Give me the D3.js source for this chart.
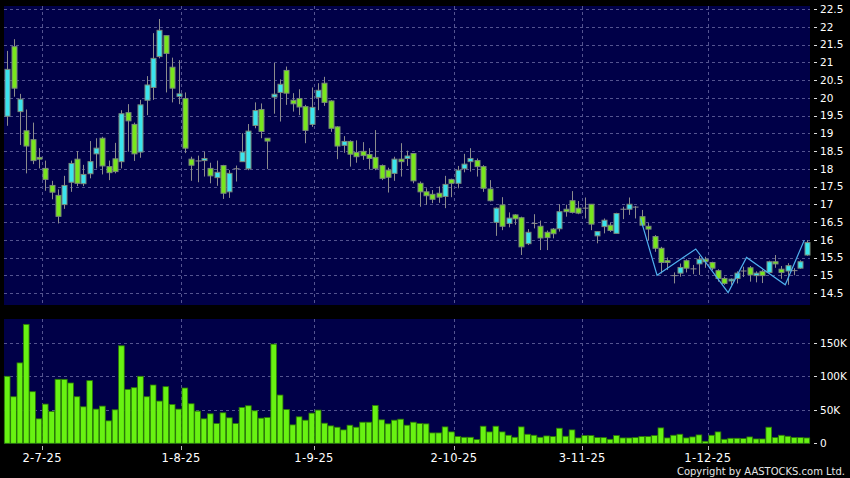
<!DOCTYPE html>
<html><head><meta charset="utf-8">
<script src="https://cdn.jsdelivr.net/npm/d3@7"></script>
<style>html,body{margin:0;padding:0;background:#000;}svg{display:block;}</style>
</head><body>
<svg id="chart" width="850" height="478"></svg>
<script>
// ---- data ----
const openP = [19.48,21.44,19.61,19.07,18.82,18.32,18.01,17.53,17.25,16.99,17.62,18.27,17.58,17.86,18.42,18.86,18.06,18.28,18.20,19.58,19.25,18.47,19.93,20.29,21.16,21.75,20.86,20.04,19.98,18.27,18.22,18.23,18.01,17.75,18.09,17.35,18.00,18.20,18.00,19.22,19.67,18.86,20.02,20.15,20.77,19.93,19.98,19.75,19.25,20.01,20.41,19.91,19.18,18.66,18.77,18.46,18.49,18.40,18.32,18.09,17.96,17.87,18.27,18.29,18.43,17.59,17.35,17.28,17.31,17.22,17.70,17.59,18.00,18.20,18.23,18.06,17.43,16.49,16.98,16.46,16.70,16.62,15.89,16.46,16.38,16.21,16.30,16.31,16.86,17.10,16.89,16.89,17.00,16.11,16.37,16.41,16.18,16.86,16.86,16.92,16.65,16.38,16.09,15.76,15.41,14.99,15.06,15.41,15.18,15.32,15.45,15.36,15.13,14.91,14.84,14.91,15.12,15.21,14.99,15.11,15.08,15.38,15.17,15.12,15.13,15.20,15.57];
const highP = [21.32,21.65,20.11,19.67,19.30,18.58,18.23,17.66,17.42,17.80,18.23,18.50,18.11,18.78,18.86,18.90,18.23,18.73,19.65,19.82,19.30,19.94,20.61,21.82,22.22,21.75,21.13,21.06,20.15,18.34,18.37,18.48,18.17,18.23,18.11,17.96,18.09,19.00,19.26,19.87,19.84,18.86,20.98,20.52,20.88,20.13,20.24,19.80,20.29,20.41,20.59,19.93,19.20,18.92,18.80,18.80,18.75,18.58,19.09,18.12,18.03,18.34,18.72,18.51,18.43,17.64,17.45,17.40,17.50,17.80,17.72,18.08,18.42,18.58,18.29,18.10,17.68,16.91,17.20,16.77,16.72,16.65,16.30,16.72,16.54,16.26,16.33,17.00,16.99,17.37,17.09,17.19,17.00,16.23,16.60,16.48,16.76,16.93,17.19,16.95,16.84,16.47,16.13,15.80,15.50,15.08,15.33,15.45,15.29,15.54,15.52,15.38,15.17,14.96,14.91,15.11,15.24,15.26,15.11,15.16,15.41,15.57,15.26,15.34,15.20,15.42,15.99];
const lowP = [19.21,20.03,18.67,17.87,18.13,18.01,17.38,17.14,16.46,16.87,17.35,17.51,17.51,17.73,18.01,17.84,17.68,17.87,18.01,18.48,18.22,18.31,19.51,19.94,21.11,20.15,19.87,19.82,18.44,17.66,17.62,17.78,17.59,17.52,17.15,17.18,17.64,18.20,17.96,19.14,18.86,17.99,19.55,19.33,19.80,19.61,19.51,18.72,19.18,19.65,19.77,19.04,18.27,18.45,18.06,18.17,18.25,17.98,17.96,17.68,17.33,17.66,17.78,18.08,17.59,16.93,16.98,17.03,17.04,16.89,17.20,17.45,17.90,17.92,17.78,17.35,17.08,16.11,16.27,16.35,16.42,15.57,15.85,16.32,15.71,15.71,16.04,16.23,16.65,16.74,16.72,16.60,16.27,15.90,16.18,16.22,16.18,16.58,16.70,16.60,16.38,15.99,15.66,15.05,15.15,14.77,14.96,15.08,15.03,15.01,15.21,15.14,14.82,14.73,14.73,14.77,14.95,14.82,14.80,14.78,15.05,15.21,14.90,14.73,15.00,15.18,15.55];
const closeP = [20.80,20.27,19.96,18.64,18.23,18.27,17.70,17.34,16.66,17.53,18.15,17.59,17.84,18.20,18.58,18.08,17.89,17.92,19.55,19.35,18.42,19.80,20.36,21.11,21.90,21.25,20.27,20.11,18.58,18.10,18.22,18.29,17.80,17.90,17.31,17.87,18.00,18.47,19.06,19.64,19.05,18.78,20.10,20.38,20.13,19.83,19.74,19.08,19.73,20.21,19.87,19.14,18.64,18.77,18.41,18.34,18.37,18.29,18.01,17.73,17.76,18.27,18.20,18.36,17.66,17.35,17.24,17.14,17.20,17.56,17.59,17.96,18.13,18.29,18.06,17.45,17.10,16.89,16.38,16.61,16.59,15.80,16.21,16.46,16.05,16.06,16.17,16.79,16.79,16.77,16.75,16.89,16.44,16.23,16.55,16.26,16.74,16.86,17.00,16.92,16.41,16.30,15.76,15.36,15.36,14.99,15.22,15.20,15.18,15.45,15.38,15.20,14.91,14.77,14.89,15.06,15.12,15.01,15.06,14.99,15.38,15.32,15.08,15.27,15.13,15.38,15.92];
const volumeK = [100,69.5,120,177.5,77,36.5,58.5,47.5,95.5,95.5,90,69.5,54.5,93.5,51,55.5,33.5,50,145.5,80.5,83,100,69.5,87,63,84.5,58,51,82.5,59,48,36.5,44,29.5,45.5,38,29.5,53.5,56,48.5,37.5,38.5,148,72,50.5,27.5,39.5,34.5,45,49.5,30,26,24,20,27,24,31.5,31.5,56.5,35,29,34.5,36,27,31.5,29.5,29,15.5,15.5,24.5,17,10,9,9,5.5,25.5,17,25.5,17,12,9,24.5,13.5,12,9,11,10,22.5,10.5,20,8,11.5,11.5,8.5,8.5,6,11.5,8,8,8.5,10,10,11.5,23,8,12,13.5,8,9.5,12.5,3,12,17,6,7.5,7.5,7,9.5,6.5,6.5,24,8.5,12,10.5,8.5,8.5,8];
const dateLabels = ["2-7-25","1-8-25","1-9-25","2-10-25","3-11-25","1-12-25"];
const dateIndex = [5.5,27.4,48.35,70.4,90.6,110.4];
const priceTicks = [14.5,15,15.5,16,16.5,17,17.5,18,18.5,19,19.5,20,20.5,21,21.5,22,22.5];
const volTicks = [0,50,100,150];
const volTickLabels = ["0","50K","100K","150K"];
const patternIdx = [99.8,102.4,108.5,113.6,116.5,122.6,125.6];
const patternPrice = [16.6,15.0,15.74,14.51,15.5,14.73,15.99];

// ---- layout ----
const svg = d3.select("#chart");
const L = 4, R = 810;
const pTop = 6, pBot = 305, vTop = 319, vBot = 444;
const n = openP.length;
const x = d3.scaleLinear().domain([-0.5, n - 0.5]).range([L, R]);
const y = d3.scaleLinear().domain([14.162, 22.585]).range([pBot, pTop]);
const yv = d3.scaleLinear().domain([0, 185.5]).range([vBot - 0.7, vTop]);
const step = x(1) - x(0);

const navy = "#000048", gridCol = "#545490";
svg.append("rect").attr("x",0).attr("y",0).attr("width",850).attr("height",478).attr("fill","#000");
svg.append("rect").attr("x",L).attr("y",pTop).attr("width",R-L).attr("height",pBot-pTop).attr("fill",navy);
svg.append("rect").attr("x",L).attr("y",vTop).attr("width",R-L).attr("height",vBot-vTop).attr("fill",navy);

const grid = svg.append("g").attr("stroke",gridCol).attr("stroke-width",1).attr("stroke-dasharray","3,3").attr("fill","none");
priceTicks.forEach(t => grid.append("line").attr("x1",L).attr("x2",R).attr("y1",Math.round(y(t))+0.5).attr("y2",Math.round(y(t))+0.5));
volTicks.slice(1).forEach(t => grid.append("line").attr("x1",L).attr("x2",R).attr("y1",Math.round(yv(t))+0.5).attr("y2",Math.round(yv(t))+0.5));
dateIndex.forEach(d => {
  const xx = Math.round(x(d)) + 0.5;
  grid.append("line").attr("x1",xx).attr("x2",xx).attr("y1",pTop).attr("y2",pBot);
  grid.append("line").attr("x1",xx).attr("x2",xx).attr("y1",vTop).attr("y2",vBot);
});

// candles
const idx = d3.range(n);
const upCol = "#3ae4ee", downCol = "#78e61c", wickCol = "#8c8c8c", edgeCol = "#7a8a7a";
const cg = svg.append("g");
cg.selectAll("line.wick").data(idx).join("line")
  .attr("x1", i => Math.round(x(i)) + 0.5).attr("x2", i => Math.round(x(i)) + 0.5)
  .attr("y1", i => y(highP[i])).attr("y2", i => y(lowP[i]))
  .attr("stroke", wickCol).attr("stroke-width", 1);
const bw = 5;
cg.selectAll("rect.body").data(idx).join("rect")
  .attr("x", i => Math.round(x(i)) + 0.5 - bw/2)
  .attr("y", i => y(Math.max(openP[i], closeP[i])))
  .attr("width", bw)
  .attr("height", i => Math.max(0.01, Math.abs(y(openP[i]) - y(closeP[i]))))
  .attr("fill", i => closeP[i] > openP[i] ? upCol : (closeP[i] < openP[i] ? downCol : wickCol))
  .attr("stroke", i => closeP[i] === openP[i] ? wickCol : edgeCol)
  .attr("stroke-width", 1);

// pattern line
svg.append("path")
  .datum(d3.range(patternIdx.length))
  .attr("d", d3.line().x(k => x(patternIdx[k])).y(k => y(patternPrice[k])))
  .attr("fill","none").attr("stroke","#4fb0ee").attr("stroke-width",1.2);

// volume
const vbw = step * 0.9;
svg.append("g").selectAll("rect").data(idx).join("rect")
  .attr("x", i => x(i) - vbw/2)
  .attr("y", i => yv(volumeK[i]))
  .attr("width", vbw)
  .attr("height", i => yv(0) - yv(volumeK[i]))
  .attr("fill", "#68f212").attr("stroke", "#2b7a05").attr("stroke-width", 0.8);

// axes labels
const font = "DejaVu Sans, Verdana, sans-serif";
const pa = svg.append("g").attr("font-family", font).attr("font-size", 10.5).attr("fill", "#fff");
priceTicks.forEach(t => {
  pa.append("line").attr("x1",814).attr("x2",817).attr("y1",Math.round(y(t))+0.5).attr("y2",Math.round(y(t))+0.5).attr("stroke","#ddd");
  pa.append("text").attr("x",820).attr("y",y(t)).attr("dy","0.36em").text(d3.format("")(t));
});
volTicks.forEach((t,k) => {
  pa.append("line").attr("x1",814).attr("x2",817).attr("y1",Math.round(yv(t))+0.5).attr("y2",Math.round(yv(t))+0.5).attr("stroke","#ddd");
  pa.append("text").attr("x",820).attr("y",yv(t)).attr("dy","0.36em").text(volTickLabels[k]);
});
const xa = svg.append("g").attr("font-family", font).attr("font-size", 11.5).attr("fill", "#fff");
dateIndex.forEach((d,k) => {
  xa.append("line").attr("x1",Math.round(x(d))+0.5).attr("x2",Math.round(x(d))+0.5).attr("y1",446).attr("y2",450).attr("stroke","#bbb");
  xa.append("text").attr("x",x(d)).attr("y",462).attr("text-anchor","middle").attr("letter-spacing","0.3px").text(dateLabels[k]);
});
svg.append("text").attr("x",845).attr("y",475).attr("text-anchor","end")
  .attr("font-family","DejaVu Sans Condensed, DejaVu Sans, sans-serif").attr("font-size",11.1).attr("fill","#e6e6e6")
  .text("Copyright by AASTOCKS.com Ltd.");
</script>
</body></html>
